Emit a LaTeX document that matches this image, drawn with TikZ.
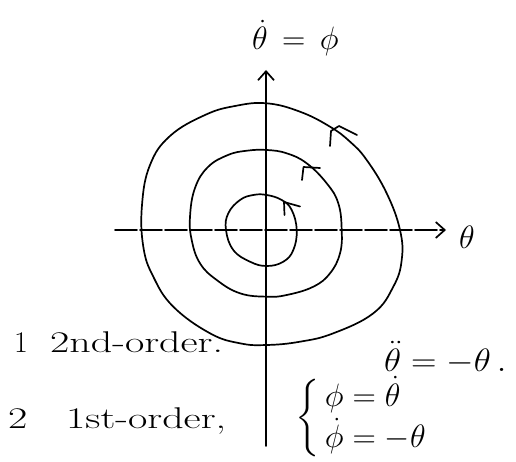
\documentclass[tikz,border=0pt]{standalone}
\usepackage{amsmath}
\usetikzlibrary{arrows.meta}
\newcommand{\wide}[1]{\scalebox{1.4}[1]{#1}}
\begin{document}
\begin{tikzpicture}[x=1pt,y=-1pt,
  pen/.style={line width=1.7pt,line cap=round,line join=round},
  axis/.style={pen,-{Straight Barb[length=9pt,width=16pt,line width=1.7pt]}},
  hand/.style={inner sep=0pt,font=\fontsize{30}{36}\selectfont},
  mathlbl/.style={inner sep=0pt,font=\fontsize{24.88}{30}\selectfont}]
\useasboundingbox (0,0) rectangle (516,462);
% axes
\coordinate (vbot) at (266,446);
\coordinate (vtop) at (266,70);
\coordinate (hleft) at (115,230);
\coordinate (hright) at (446,230);
\draw[axis] (vbot) -- (vtop);
\draw[axis,dash pattern=on 22pt off 3pt] (hleft) -- (hright);
% orbits
\draw[pen] plot[smooth cycle,tension=0.7] coordinates {(266.7,103.3) (300,111.7) (330,126.7) (350,141.7) (366.7,160) (386.7,193.3) (400,230) (401.7,260) (393.3,286.7) (373.3,313.3) (333.3,333.3) (300,341.7) (266.7,345) (240,343.3) (210,333.3) (173.3,306.7) (153.3,276.7) (143.3,246.7) (142,205) (150,165) (170,136) (205,115) (235,106)};
\draw[pen] plot[smooth cycle,tension=0.7] coordinates {(266.7,150) (286.7,153.3) (306.7,163.3) (326.7,183.3) (338.3,203.3) (341.7,230) (340,253.3) (330,273.3) (313.3,286.7) (286.7,295) (266.7,296.7) (240,293.3) (216.7,280) (200,263.3) (191.7,240) (190,216.7) (195,188) (208,167) (228,155) (247,150.7)};
\draw[pen] plot[smooth cycle,tension=0.7] coordinates {(266.7,195) (281.7,200) (291.7,210) (296.7,230) (293.3,250) (283.3,261.7) (266.7,266) (250,261.7) (233.3,250) (226,230) (228.3,213.3) (240,200) (253.3,195)};
% hand-drawn direction marks
\draw[pen] (330,146) -- (331,131) -- (339,126) -- (357,135);
\draw[pen] (302,180) -- (303.5,167) -- (320,168);
\draw[pen] (284.5,215) -- (284,202) -- (300,206.5);
% labels
\node[mathlbl,anchor=base west] (ylab) at (252,50) {\scalebox{1.3}{$\dot{\theta}\,=\,\phi$}};
\node[mathlbl,anchor=base] (xlab) at (467,248) {\scalebox{1.3}{$\theta$}};
\node[hand,anchor=base west] (one) at (14,352) {1};
\node[hand,anchor=base west] (l1) at (50,352) {\wide{2nd-order.}};
\node[hand,anchor=base west] (two) at (8,428) {\wide{2}};
\node[hand,anchor=base west] (l2) at (66,428) {\wide{1st-order,}};
\node[mathlbl,anchor=base west] (eq1) at (384,371) {\scalebox{1.42}[1.3]{$\ddot{\theta} = -\theta\,.$}};
\node[mathlbl,anchor=west] (eq2) at (295,418) {\scalebox{1.3}{$\left\{\begin{array}{@{\,}l@{}}\phi = \dot{\theta}\\ \dot{\phi} = -\theta\end{array}\right.$}};
\end{tikzpicture}
\end{document}
